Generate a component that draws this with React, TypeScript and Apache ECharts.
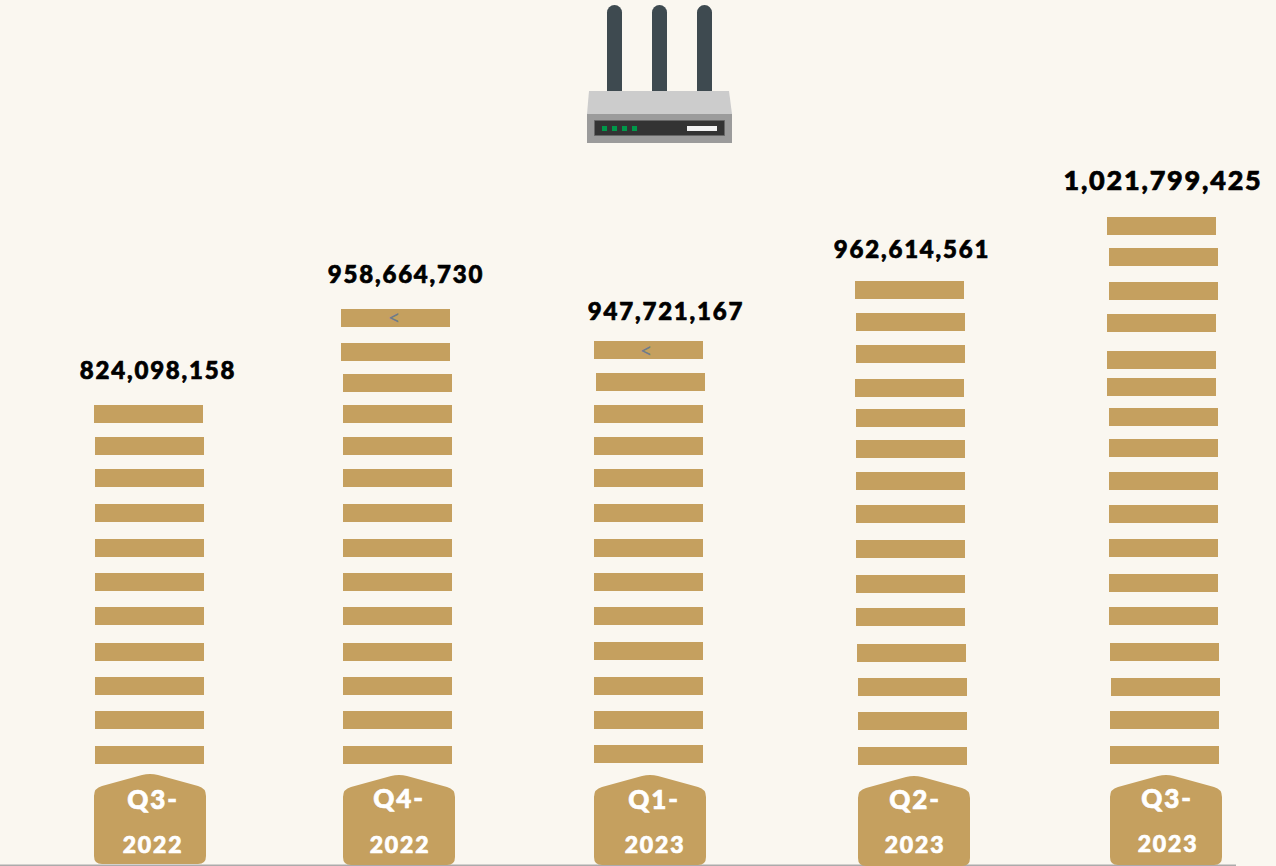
import React, { useEffect, useRef } from "react";
import * as echarts from "echarts";

const quarters = ["Q3-2022", "Q4-2022", "Q1-2023", "Q2-2023", "Q3-2023"];
const totals = [824098158, 958664730, 947721167, 962614561, 1021799425];

const rungLevels = [
  [405, 437, 469, 504, 539, 573, 607, 643, 677, 711, 746],
  [309, 343, 374, 405, 437, 469, 504, 539, 573, 607, 643, 677, 711, 746],
  [341, 373, 405, 437, 469, 504, 539, 573, 607, 642, 677, 711, 745],
  [281, 313, 345, 379, 409, 440, 472, 505, 540, 575, 608, 644, 678, 712, 747],
  [217, 248, 282, 314, 351, 378, 408, 439, 472, 505, 539, 574, 607, 643, 678, 711, 746],
];
const rungStarts = [
  [94, 95, 95, 95, 95, 95, 95, 95, 95, 95, 95],
  [341, 341, 343, 343, 343, 343, 343, 343, 343, 343, 343, 343, 343, 343],
  [594, 596, 594, 594, 594, 594, 594, 594, 594, 594, 594, 594, 594],
  [855, 856, 856, 855, 856, 856, 856, 856, 856, 856, 856, 857, 858, 858, 858],
  [1107, 1109, 1109, 1107, 1107, 1107, 1109, 1109, 1109, 1109, 1109, 1109, 1109, 1110, 1111, 1110, 1110],
];
const totalAnchors = [[158, 369], [406, 273], [666, 310], [912, 248], [1163, 179]];
const totalSizes = [24, 24, 24, 24, 27];
const badgeAnchors = [[94, 774], [343, 775], [594, 775], [858, 776], [1110, 775]];
const badgeTextCentres = [[153, 799, 153, 844], [399, 798, 400, 844], [654, 799, 655, 844], [915, 799, 915, 844], [1167, 798, 1168, 843]];
const markers = [[395, 316], [647, 349]];

const GOLD = "#C5A05F";
const BG = "#FAF7F0";
const FONT = "Lato";
const BADGE = "M0 22Q0 14 8 12L48 1Q56 -1 64 1L104 12Q112 14 112 22L112 82Q112 90 104 90L8 90Q0 90 0 82Z";

const rungData = rungLevels.flatMap((col, c) => col.map((lvl, i) => [rungStarts[c][i], lvl]));
const totalData = totals.map((v, i) => [totalAnchors[i][0], totalAnchors[i][1], v, totalSizes[i]]);
const badgeData = quarters.map((q, i) => [badgeAnchors[i][0], badgeAnchors[i][1], i]);

function option() {
  const antennas = [607, 652, 697].map((x) => ({
    type: "rect", shape: { x, y: 5, width: 15, height: 87, r: [7.5, 7.5, 0, 0] }, style: { fill: "#3E4A50" },
  }));
  const leds = [602, 612, 622, 632].map((x) => ({
    type: "rect", shape: { x, y: 126, width: 5, height: 5 }, style: { fill: "#00994A" },
  }));
  return {
    animation: false,
    backgroundColor: BG,
    grid: { left: 0, right: 0, top: 0, bottom: 0 },
    xAxis: { type: "value", min: 0, max: 1276, show: false },
    yAxis: { type: "value", min: 0, max: 866, inverse: true, show: false },
    graphic: [
      ...antennas,
      { type: "polygon", shape: { points: [[589, 91], [729, 91], [732, 114], [587, 114]] }, style: { fill: "#CCCCCC" } },
      { type: "rect", shape: { x: 587, y: 114, width: 145, height: 29 }, style: { fill: "#9B9B9B" } },
      { type: "rect", shape: { x: 594.5, y: 120.5, width: 130, height: 15 }, style: { fill: "#333333", stroke: "#666", lineWidth: 1 } },
      ...leds,
      { type: "rect", shape: { x: 687, y: 126, width: 30, height: 5 }, style: { fill: "#F2F2F2" } },
      { type: "rect", shape: { x: 0, y: 864.5, width: 1236, height: 1.5 }, style: { fill: "#ABABAB" } },
    ],
    series: [
      {
        type: "custom", coordinateSystem: "cartesian2d", data: rungData, silent: true,
        renderItem: (_p: any, api: any) => {
          const [x, y] = api.coord([api.value(0), api.value(1)]);
          return { type: "rect", shape: { x, y, width: 109, height: 18 }, style: { fill: GOLD } };
        },
      },
      {
        type: "custom", coordinateSystem: "cartesian2d", data: badgeData, silent: true,
        renderItem: (_p: any, api: any) => {
          const [x, y] = api.coord([api.value(0), api.value(1)]);
          const i = api.value(2);
          const [q, yr] = quarters[i].split("-");
          const t = badgeTextCentres[i];
          const txt = (text: string, cx: number, cy: number) => ({
            type: "text", x: cx, y: cy,
            style: {
              text, fill: "#FFFFFF", stroke: "#FFFFFF", lineWidth: 0.7,
              font: `900 ${text.length > 3 ? 23 : 26}px ${FONT}`, textAlign: "center", textVerticalAlign: "middle",
            },
          });
          return {
            type: "group",
            children: [
              { type: "path", shape: { pathData: BADGE, x, y, width: 112, height: 90, layout: "cover" }, style: { fill: GOLD } },
              txt(q + "-", t[0], t[1]),
              txt(yr, t[2], t[3]),
            ],
          };
        },
      },
      {
        type: "custom", coordinateSystem: "cartesian2d", data: totalData, silent: true,
        renderItem: (_p: any, api: any) => {
          const [x, y] = api.coord([api.value(0), api.value(1)]);
          return {
            type: "text", x, y,
            style: {
              text: api.value(2).toLocaleString("en-US"), fill: "#000000", stroke: "#000000", lineWidth: 0.7,
              font: `900 ${api.value(3)}px ${FONT}`, textAlign: "center", textVerticalAlign: "middle",
            },
          };
        },
      },
      {
        type: "custom", coordinateSystem: "cartesian2d", data: markers, silent: true,
        renderItem: (_p: any, api: any) => {
          const [x, y] = api.coord([api.value(0), api.value(1)]);
          return {
            type: "text", x, y,
            style: { text: "<", fill: "#6F7C8C", font: `400 22px ${FONT}`, textAlign: "center", textVerticalAlign: "middle" },
          };
        },
      },
    ],
  };
}

export default function App() {
  const ref = useRef<HTMLDivElement>(null);
  useEffect(() => {
    const chart = echarts.init(ref.current!, undefined, { renderer: "svg" });
    chart.setOption(option() as any);
    return () => chart.dispose();
  }, []);
  return (
    <>
      <style>{`html,body{margin:0;padding:0;background:${BG}} #router-chart text{letter-spacing:1.8px}`}</style>
      <div id="router-chart" ref={ref} style={{ position: "fixed", left: 0, top: 0, width: 1276, height: 866 }} />
    </>
  );
}
